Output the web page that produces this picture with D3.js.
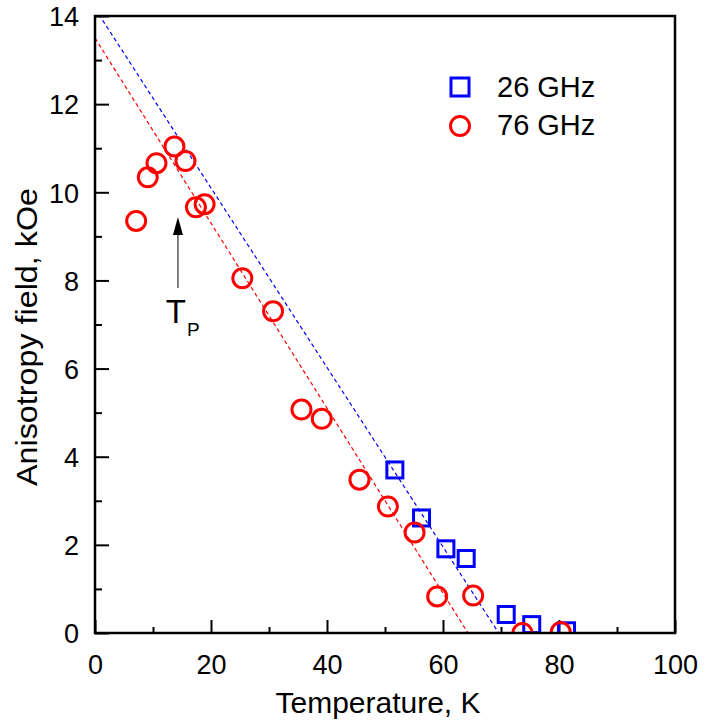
<!DOCTYPE html>
<html>
<head>
<meta charset="utf-8">
<script src="https://cdn.jsdelivr.net/npm/d3@7"></script>
<style>
  body { margin: 0; background: #fff; }
  text { font-family: "Liberation Sans", Arial, sans-serif; fill: #000; }
</style>
</head>
<body>
<div id="plot"></div>
<script>
// data
var ghz26T = [51.7, 56.3, 60.5, 64.0, 70.9, 75.3, 81.3];
var ghz26H = [3.70, 2.61, 1.91, 1.69, 0.42, 0.19, 0.05];

var ghz76T = [7.1, 9.1, 10.6, 13.7, 15.6, 17.4, 18.9, 25.4, 30.7, 35.6, 39.1, 45.6, 50.5, 55.1, 59.0, 65.2, 73.7, 80.3];
var ghz76H = [9.35, 10.34, 10.66, 11.04, 10.71, 9.66, 9.73, 8.05, 7.30, 5.07, 4.86, 3.48, 2.87, 2.28, 0.83, 0.85, 0.0, 0.02];

// linear fits (end points)
var fit26 = [[0, 14.17], [69.6, 0]];
var fit76 = [[0, 13.5], [64.3, 0]];

var xTicks = [0, 20, 40, 60, 80, 100];
var yTicks = [0, 2, 4, 6, 8, 10, 12, 14];
var legendLabels = ["26 GHz", "76 GHz"];

// arrow marking T_P
var arrowT = 14.3, arrowFrom = 7.83, arrowTo = 9.44;

var W = 712, H = 721;
var margin = { top: 16, right: 37, bottom: 88, left: 95 },
    width = W - margin.left - margin.right,
    height = H - margin.top - margin.bottom;

var svg = d3.select("#plot").append("svg")
    .attr("width", W)
    .attr("height", H);

var g = svg.append("g")
    .attr("transform", "translate(" + margin.left + "," + margin.top + ")");

var x = d3.scaleLinear().domain([0, 100]).range([0, width]);
var y = d3.scaleLinear().domain([0, 14]).range([height, 0]);

svg.append("defs").append("clipPath").attr("id", "clip")
  .append("rect").attr("width", width).attr("height", height);

//Axes, ticks inside
var xAxis = d3.axisBottom(x).tickValues(xTicks).tickSize(-13).tickPadding(41).tickFormat(d3.format("d"));
var xMinor = d3.axisBottom(x).tickValues(d3.range(10, 100, 20)).tickSize(-6).tickFormat("");
var yAxis = d3.axisLeft(y).tickValues(yTicks).tickSize(-14).tickPadding(16).tickFormat(d3.format("d"));
var yMinor = d3.axisLeft(y).tickValues(d3.range(1, 14, 2)).tickSize(-7).tickFormat("");

var gx = g.append("g").attr("transform", "translate(0," + height + ")").call(xAxis);
g.append("g").attr("transform", "translate(0," + height + ")").call(xMinor);
var gy = g.append("g").call(yAxis);
g.append("g").call(yMinor);

g.selectAll(".domain").remove();
g.selectAll(".tick line").attr("stroke", "#000").attr("stroke-width", 2);
g.selectAll(".tick text").style("font-size", "27px").style("font-family", "Liberation Sans, Arial, sans-serif");
gx.selectAll(".tick text").attr("dy", "0");
gy.selectAll(".tick text").attr("dy", "0.36em");

//fit lines
var line = d3.line().x(function(d) { return x(d[0]); }).y(function(d) { return y(d[1]); });
var plotArea = g.append("g").attr("clip-path", "url(#clip)");

plotArea.append("path").datum(fit26)
    .attr("d", line).attr("fill", "none")
    .attr("stroke", "#0000ff").attr("stroke-width", 1.2)
    .attr("stroke-dasharray", "4,3");
plotArea.append("path").datum(fit76)
    .attr("d", line).attr("fill", "none")
    .attr("stroke", "#ff0000").attr("stroke-width", 1.2)
    .attr("stroke-dasharray", "4,3");

//points
var sq = 16;
plotArea.selectAll(".sq").data(d3.range(ghz26T.length)).enter().append("rect")
    .attr("class", "sq")
    .attr("x", function(i) { return x(ghz26T[i]) - sq / 2; })
    .attr("y", function(i) { return y(ghz26H[i]) - sq / 2; })
    .attr("width", sq).attr("height", sq)
    .attr("fill", "none").attr("stroke", "#0000ff").attr("stroke-width", 3);

plotArea.selectAll(".circ").data(d3.range(ghz76T.length)).enter().append("circle")
    .attr("class", "circ")
    .attr("cx", function(i) { return x(ghz76T[i]); })
    .attr("cy", function(i) { return y(ghz76H[i]); })
    .attr("r", 9.5)
    .attr("fill", "none").attr("stroke", "#ff0000").attr("stroke-width", 3);

//frame
g.append("rect").attr("width", width).attr("height", height)
    .attr("fill", "none").attr("stroke", "#000").attr("stroke-width", 2.5);

//arrow + T_P
g.append("line")
    .attr("x1", x(arrowT)).attr("x2", x(arrowT))
    .attr("y1", y(arrowFrom)).attr("y2", y(arrowTo) + 16)
    .attr("stroke", "#555").attr("stroke-width", 1.5);
g.append("path")
    .attr("d", "M" + x(arrowT) + "," + y(arrowTo) + "L" + (x(arrowT) - 5) + "," + (y(arrowTo) + 18) +
               "L" + (x(arrowT) + 5) + "," + (y(arrowTo) + 18) + "Z")
    .attr("fill", "#000");
g.append("text").attr("x", x(arrowT) - 2).attr("y", y(arrowFrom) + 35)
    .attr("text-anchor", "middle").style("font-size", "33px").text("T");
g.append("text").attr("x", x(arrowT) + 9).attr("y", y(arrowFrom) + 48)
    .style("font-size", "19px").text("P");

//legend
var legend = g.append("g").attr("transform", "translate(" + (460 - margin.left) + "," + (87 - margin.top) + ")");
legend.append("rect").attr("x", -9).attr("y", -9).attr("width", 18).attr("height", 18)
    .attr("fill", "none").attr("stroke", "#0000ff").attr("stroke-width", 3);
legend.append("circle").attr("cx", 0).attr("cy", 39).attr("r", 9.5)
    .attr("fill", "none").attr("stroke", "#ff0000").attr("stroke-width", 3);
legend.selectAll(".lt").data(legendLabels).enter().append("text")
    .attr("x", 37).attr("y", function(d, i) { return 10 + i * 38; })
    .style("font-size", "29px").text(function(d) { return d; });

//axis labels
svg.append("text")
    .attr("x", 378).attr("y", 713)
    .attr("text-anchor", "middle")
    .attr("textLength", 205).attr("lengthAdjust", "spacingAndGlyphs")
    .style("font-size", "30px")
    .text("Temperature, K");

svg.append("text")
    .attr("transform", "translate(37,337) rotate(-90)")
    .attr("text-anchor", "middle")
    .attr("textLength", 298).attr("lengthAdjust", "spacingAndGlyphs")
    .style("font-size", "29px")
    .text("Anisotropy field, kOe");
</script>
</body>
</html>
